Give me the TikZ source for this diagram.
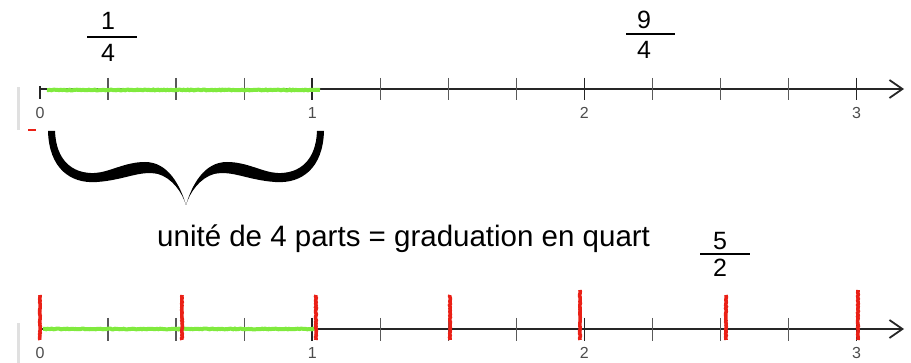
\documentclass[tikz,border=0pt]{standalone}
\usepackage{fontspec}
\setmainfont{Liberation Sans}
\usepackage{tikz}
\usetikzlibrary{arrows.meta,decorations.pathmorphing}
\definecolor{vertclair}{RGB}{128,234,62}
\definecolor{rougevif}{RGB}{234,32,22}

\begin{document}
\begin{tikzpicture}[x=1pt,y=-1pt,
  axe/.style={line width=1.7pt,black!85,-{Straight Barb[length=13pt,width=18pt,line width=1.8pt]}},
  quart/.style={line width=1.3pt,black!65},
  unite/.style={line width=1.7pt,black!85},
  vert/.style={line width=4pt,vertclair,decorate,decoration={random steps,segment length=1.5pt,amplitude=0.4pt}},
  rouge/.style={line width=3.6pt,rougevif,decorate,decoration={random steps,segment length=1.5pt,amplitude=0.4pt}},
  grad/.style={text=black!70,inner sep=0pt,font=\fontsize{16}{16}\selectfont},
  frac/.style={inner sep=0pt,font=\fontsize{25}{25}\selectfont},
  barre/.style={line width=1.3pt,black}]
\useasboundingbox (0,0) rectangle (911,363);
\fill[black!12] (17,87) rectangle (20,130);
\fill[black!12] (17,323) rectangle (20,363);
\draw[rougevif,line width=1.5pt] (28,130) -- (36,130);
% droite du haut
\coordinate (o1) at (40,89);
\coordinate (f1) at (904,89);
\draw[axe] (o1) -- (f1);
\draw[unite] (40,86) -- (40,99);
\foreach \i in {1,...,12} {
   \draw[quart] (40+68.05*\i,78) -- (40+68.05*\i,100);
}
\foreach \i in {1,2,3} {
   \draw[unite] (40+272.2*\i,78) -- (40+272.2*\i,100);
}
\foreach \n in {0,...,3} {
   \node[grad] (h\n) at (40+272.2*\n,113) {\n};
}
\draw[vert] (47,90) -- (320,90);
% fractions
\node[frac] (n1) at (108,21) {1};
\node[frac] (d1) at (108,53) {4};
\draw[barre] (87,37) -- (137,37);
\node[frac] (n2) at (644,20) {9};
\node[frac] (d2) at (644,50) {4};
\draw[barre] (626,34) -- (675,34);
\node[frac] (n3) at (720,241) {5};
\node[frac] (d3) at (720,268) {2};
\draw[barre] (700,254) -- (750,254);
% accolade
\foreach \s in {1,-1} {
\begin{scope}[shift={(186,205)},xscale=\s]
\fill (-138,-74) .. controls (-137,-37) and (-116,-21) .. (-89,-23)
   .. controls (-61,-25) and (-46,-35) .. (-28,-31)
   .. controls (-14,-27) and (-4,-13) .. (0,0)
   .. controls (-6,-20) and (-18,-43) .. (-41,-43)
   .. controls (-61,-43) and (-76,-33) .. (-91,-32)
   .. controls (-114,-31) and (-130,-45) .. (-131,-74) -- cycle;
\end{scope}
}
\node[anchor=base west,inner sep=0pt,font=\fontsize{29.5}{29.5}\selectfont] (txt) at (157,247) {unité de 4 parts = graduation en quart};
% droite du bas
\coordinate (o2) at (40,329);
\coordinate (f2) at (904,329);
\draw[axe] (o2) -- (f2);
\foreach \i in {1,...,12} {
   \draw[quart] (40+68.05*\i,318) -- (40+68.05*\i,341);
}
\foreach \i in {1,2,3} {
   \draw[unite] (40+272.2*\i,318) -- (40+272.2*\i,341);
}
\foreach \n in {0,...,3} {
   \node[grad] (b\n) at (40+272.2*\n,353) {\n};
}
\draw[vert] (43,329) -- (316,329);
\foreach \x/\y in {40/295,182/295,316/295,450/295,580/290,726/295,858/290} {
   \draw[rouge] (\x,\y) -- (\x,340);
}
\end{tikzpicture}
\end{document}
